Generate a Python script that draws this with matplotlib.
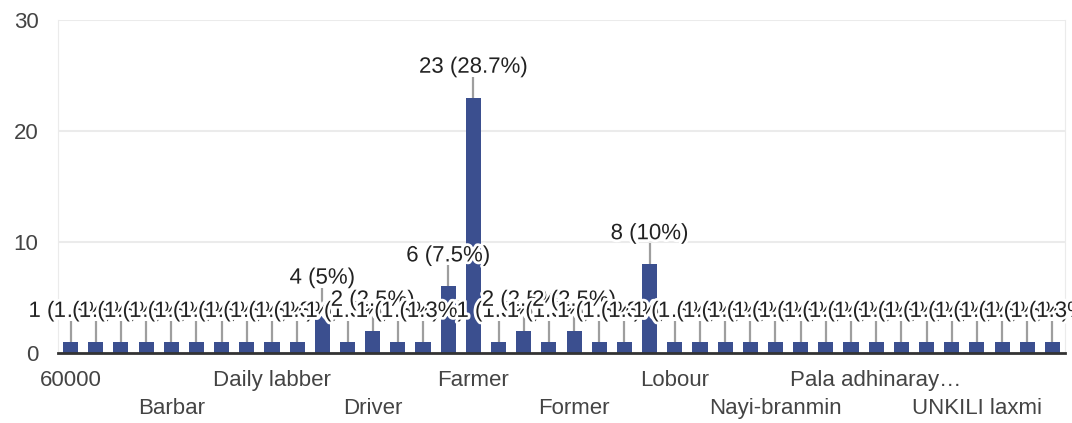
import math
import matplotlib
matplotlib.use('Agg')
import matplotlib.pyplot as plt
import matplotlib.patheffects as pe

# answers (alphabetical, as the form sorts them) and response counts
categories = ["60000", "Agriculture", "Auto driver", "Bangle seller", "Barbar",
              "Business", "Carpenter", "Cooli", "Daily labber", "Daily labour",
              "Daily wages", "Drivar", "Driver", "Electrician", "Employee",
              "Farmar", "Farmer", "Farming", "Fisherman", "Formar",
              "Former", "House wife", "Labor", "Labour", "Lobour",
              "Mason", "Mechanic", "Merchant", "Nayi-branmin", "No",
              "Nothing", "Painter", "Pala adhinaray\u2026", "Private job", "Rythu",
              "Shop", "UNKILI laxmi", "Vegetable seller", "Weaver", "Worker"]
counts = [1, 1, 1, 1, 1, 1, 1, 1, 1, 1,
          4, 1, 2, 1, 1, 6, 23, 1, 2, 1,
          2, 1, 1, 8, 1, 1, 1, 1, 1, 1,
          1, 1, 1, 1, 1, 1, 1, 1, 1, 1]
yticks = [0, 10, 20, 30]

BAR = '#3b4f8f'
FONT = 'Liberation Sans'
plt.rcParams['font.family'] = [FONT, 'DejaVu Sans']


def pct_label(v, total):
    p = math.floor(v / total * 100 * 10 + 0.5) / 10
    s = ('%d' % p) if p == int(p) else ('%.1f' % p)
    return '%d (%s%%)' % (v, s)


fig = plt.figure(figsize=(10.72, 4.23), dpi=100)
ax = fig.add_axes([58 / 1072, 70 / 423, 1007 / 1072, 333 / 423])

x = list(range(len(categories)))
total = sum(counts)

ax.bar(x, counts, width=0.6, color=BAR, zorder=2)

# leader lines and value labels, left to right so later ones cover earlier ones
halo = [pe.withStroke(linewidth=4, foreground='white')]
for i, v in zip(x, counts):
    ax.plot([i, i], [v, v + 1.9], color='#9e9e9e', lw=1.6, zorder=3,
            solid_capstyle='butt')
    ax.text(i, v + 2.25, pct_label(v, total), ha='center', va='baseline',
            fontsize=16, color='#222222', zorder=4, path_effects=halo)

ax.set_xlim(-0.5, len(categories) - 0.5)
ax.set_ylim(0, 30)
ax.set_yticks(yticks)
ax.set_yticklabels([str(t) for t in yticks])

# every fourth answer is labelled, staggered over two rows
shown = list(range(0, len(categories), 4))
ax.set_xticks(shown)
ax.set_xticklabels([categories[i] if k % 2 == 0 else '\n' + categories[i]
                    for k, i in enumerate(shown)], linespacing=1.45)

ax.tick_params(axis='both', length=0, labelsize=16, labelcolor='#444444')
ax.tick_params(axis='y', pad=14)
ax.tick_params(axis='x', pad=12)

ax.yaxis.grid(True, color='#ebebeb', lw=1.5, zorder=0)
ax.set_axisbelow(True)
ax.spines['top'].set_visible(False)
ax.spines['left'].set_color('#ebebeb')
ax.spines['right'].set_color('#ebebeb')
ax.spines['bottom'].set_color('#333333')
ax.spines['bottom'].set_linewidth(2)
ax.spines['bottom'].set_zorder(5)

plt.savefig('out.png', dpi=100)
